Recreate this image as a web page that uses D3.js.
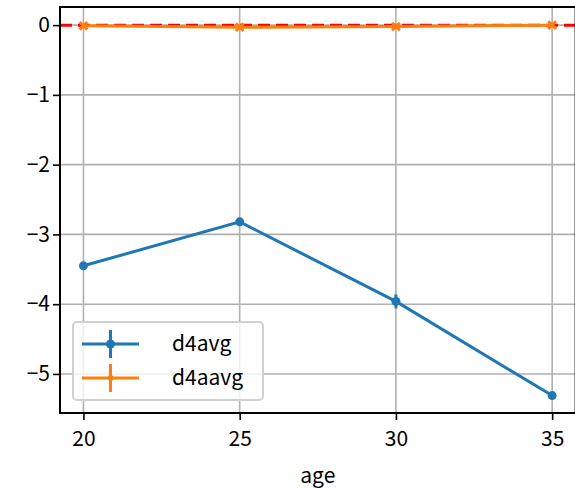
<!DOCTYPE html>
<html><head><meta charset="utf-8">
<script src="https://cdn.jsdelivr.net/npm/d3@7"></script>
<style>body{margin:0;background:#fff}svg{display:block}text{font-family:"Noto Sans CJK JP","Noto Sans",sans-serif;fill:#000}</style>
</head><body><svg id="c" width="575" height="489"></svg>
<script>
const ages = [20, 25, 30, 35];
const d4avg = [-3.45, -2.82, -3.96, -5.31];
const d4avgErr = [0.03, 0.02, 0.1, 0.03];
const d4aavg = [-0.01, -0.03, -0.02, 0.0];
const d4aavgErr = [0.01, 0.01, 0.01, 0.01];
const xTicks = [20, 25, 30, 35];
const yTicks = [0, -1, -2, -3, -4, -5];
const seriesNames = ["d4avg", "d4aavg"];
const colors = ["#1f77b4", "#ff7f0e"];

const svg = d3.select("#c");
const L = 60, R = 575.6, T = 7, B = 413;
const x = d3.scaleLinear().domain([19.25, 35.75]).range([L, R]);
const y = d3.scaleLinear().domain([0.26, -5.56]).range([T, B]);
const FONT = '"Noto Sans CJK JP", sans-serif';

// grid
const g = svg.append("g");
g.selectAll(".gx").data(xTicks).join("line")
  .attr("x1", d => x(d)).attr("x2", d => x(d)).attr("y1", T).attr("y2", B)
  .attr("stroke", "#b0b0b0").attr("stroke-width", 1.6);
g.selectAll(".gy").data(yTicks).join("line")
  .attr("y1", d => y(d)).attr("y2", d => y(d)).attr("x1", L).attr("x2", R)
  .attr("stroke", "#b0b0b0").attr("stroke-width", 1.6);

// red dashed zero line
svg.append("line").attr("x1", L).attr("x2", R).attr("y1", y(0)).attr("y2", y(0))
  .attr("stroke", "red").attr("stroke-width", 3).attr("stroke-dasharray", "12,6");

const line = d3.line().x(d => x(d[0])).y(d => y(d[1]));

function drawSeries(vals, errs, color, marker) {
  const pts = ages.map((a, i) => [a, vals[i], errs[i]]);
  const sg = svg.append("g");
  sg.append("path").datum(pts).attr("d", line).attr("fill", "none")
    .attr("stroke", color).attr("stroke-width", 3);
  sg.selectAll(".eb").data(pts).join("line")
    .attr("x1", d => x(d[0])).attr("x2", d => x(d[0]))
    .attr("y1", d => y(d[1] - d[2])).attr("y2", d => y(d[1] + d[2]))
    .attr("stroke", color).attr("stroke-width", 3);
  if (marker === "o") {
    sg.selectAll(".m").data(pts).join("circle")
      .attr("cx", d => x(d[0])).attr("cy", d => y(d[1])).attr("r", 4.5).attr("fill", color);
  } else {
    sg.selectAll(".m").data(pts).join("path")
      .attr("d", d3.symbol(d3.symbolX, 40))
      .attr("transform", d => `translate(${x(d[0])},${y(d[1])})`)
      .attr("stroke", color).attr("stroke-width", 3).attr("fill", "none");
  }
}
drawSeries(d4avg, d4avgErr, colors[0], "o");
drawSeries(d4aavg, d4aavgErr, colors[1], "x");

// axes
const xAxis = svg.append("g").attr("transform", `translate(0,${B})`)
  .call(d3.axisBottom(x).tickValues(xTicks).tickSize(7).tickPadding(11).tickFormat(d3.format("d")));
const yAxis = svg.append("g").attr("transform", `translate(${L},0)`)
  .call(d3.axisLeft(y).tickValues(yTicks).tickSize(7).tickPadding(3).tickFormat(d => d < 0 ? "\u2212" + Math.abs(d) : d));
[xAxis, yAxis].forEach(a => {
  a.select(".domain").remove();
  a.selectAll("line").attr("stroke", "#000").attr("stroke-width", 1.6);
  a.selectAll("text").attr("font-size", 21).attr("font-family", FONT).attr("fill", "#000");
});
// spines
svg.append("rect").attr("x", L).attr("y", T).attr("width", R - L).attr("height", B - T)
  .attr("fill", "none").attr("stroke", "#000").attr("stroke-width", 2);

svg.append("text").attr("x", (L + R) / 2).attr("y", 483).attr("text-anchor", "middle")
  .attr("font-size", 21).attr("font-family", FONT).text("age");

// legend
const lg = svg.append("g");
lg.append("rect").attr("x", 73).attr("y", 322).attr("width", 190).attr("height", 78).attr("rx", 4)
  .attr("fill", "#fff").attr("fill-opacity", 0.8).attr("stroke", "#d0d0d0").attr("stroke-width", 2);
seriesNames.forEach((n, i) => {
  const cy = 344 + i * 34;
  lg.append("line").attr("x1", 82).attr("x2", 139).attr("y1", cy).attr("y2", cy)
    .attr("stroke", colors[i]).attr("stroke-width", 3);
  lg.append("line").attr("x1", 110.5).attr("x2", 110.5).attr("y1", cy - 14).attr("y2", cy + 14)
    .attr("stroke", colors[i]).attr("stroke-width", 3);
  lg.append("circle").attr("cx", 110.5).attr("cy", cy).attr("r", i === 0 ? 4.5 : 3).attr("fill", colors[i]);
  lg.append("text").attr("x", 172).attr("y", cy + 7).attr("font-size", 21).attr("font-family", FONT).text(n);
});
</script></body></html>
